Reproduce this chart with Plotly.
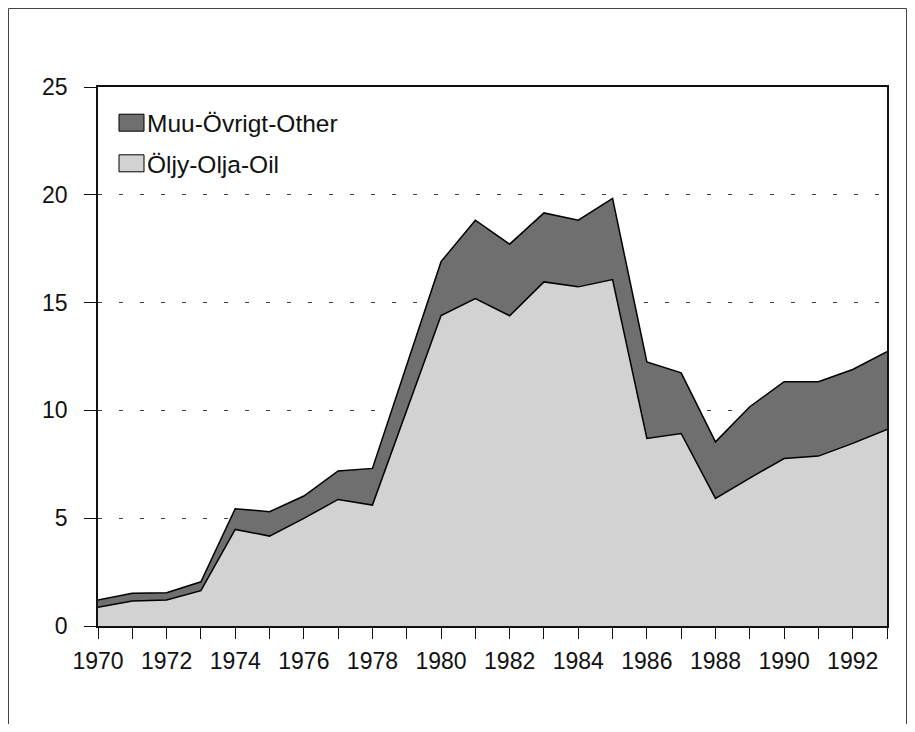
import plotly.graph_objects as go

years = list(range(1970, 1994))
oil = [0.87, 1.16, 1.21, 1.64, 4.48, 4.17, 4.99, 5.87, 5.61, 10.0, 14.4, 15.19,
       14.39, 15.96, 15.73, 16.07, 8.70, 8.93, 5.92, 6.86, 7.77, 7.88, 8.47, 9.12]
total = [1.21, 1.52, 1.54, 2.05, 5.44, 5.30, 6.03, 7.19, 7.31, 12.1, 16.9, 18.82,
         17.71, 19.16, 18.82, 19.83, 12.25, 11.74, 8.54, 10.17, 11.33, 11.33, 11.90, 12.72]
other = [round(t - o, 2) for t, o in zip(total, oil)]

series_names = ["Muu-Övrigt-Other", "Öljy-Olja-Oil"]
series_colors = ["#6f6f6f", "#d2d2d2"]
x_tick_labels = [str(y) if y % 2 == 0 else "" for y in years]
y_tick_vals = [0, 5, 10, 15, 20, 25]

FONT = "Liberation Sans, Arial, Helvetica, sans-serif"

fig = go.Figure()
fig.add_trace(go.Scatter(x=years, y=oil, name=series_names[1], stackgroup="s",
                         mode="lines", line=dict(color="black", width=1.5),
                         fillcolor=series_colors[1], showlegend=False))
fig.add_trace(go.Scatter(x=years, y=other, name=series_names[0], stackgroup="s",
                         mode="lines", line=dict(color="black", width=1.5),
                         fillcolor=series_colors[0], showlegend=False))

# page is offset by 8px (body margin); coordinates below are page pixels
OFF = 8
L, R, T, B = 98 - OFF, 887 - OFF, 87 - OFF, 626 - OFF
W, H = 899, 716
pw, ph = R - L, B - T


def fx(xf):
    return (xf - L) / pw


def fy(yf):
    return (B - yf) / ph


def px(xp):
    return fx(xp - OFF)


def py(yp):
    return fy(yp - OFF)


shapes = []
# outer frame
shapes.append(dict(type="rect", xref="paper", yref="paper",
                   x0=fx(0.5), x1=fx(W - 0.5), y0=fy(H + 40), y1=fy(0.5),
                   line=dict(color="#444", width=1), fillcolor="rgba(0,0,0,0)", layer="below"))
annotations = []
rows = [(122.7, 0), (163.3, 1)]
for cy, i in rows:
    shapes.append(dict(type="rect", xref="paper", yref="paper",
                       x0=px(119), x1=px(144), y0=py(cy + 8.5), y1=py(cy - 8.5),
                       line=dict(color="black", width=1), fillcolor=series_colors[i]))
    annotations.append(dict(xref="paper", yref="paper", x=px(145), y=py(cy + 1),
                            text=series_names[i], showarrow=False, xanchor="left",
                            yanchor="middle", font=dict(family=FONT, size=24.5, color="#111")))

fig.update_layout(
    width=W, height=H,
    margin=dict(l=L, r=W - R, t=T, b=H - B),
    paper_bgcolor="white", plot_bgcolor="white",
    font=dict(family=FONT, size=23, color="#111"),
    shapes=shapes, annotations=annotations,
    xaxis=dict(range=[1970, 1993], tickvals=years, ticktext=x_tick_labels,
               ticks="outside", ticklen=11, tickwidth=1.2, tickcolor="#111",
               showline=True, linecolor="#111", linewidth=1.5, mirror=True,
               showgrid=False, zeroline=False, tickangle=0,
               ticklabelstandoff=3),
    yaxis=dict(range=[0, 25], tickvals=y_tick_vals,
               ticks="outside", ticklen=12, tickwidth=1.2, tickcolor="#111",
               showline=True, linecolor="#111", linewidth=1.5, mirror=True,
               showgrid=True, gridcolor="#444", gridwidth=1.2, griddash="4px,17px",
               zeroline=False, ticklabelstandoff=12),
)

fig.write_html("out.html")
